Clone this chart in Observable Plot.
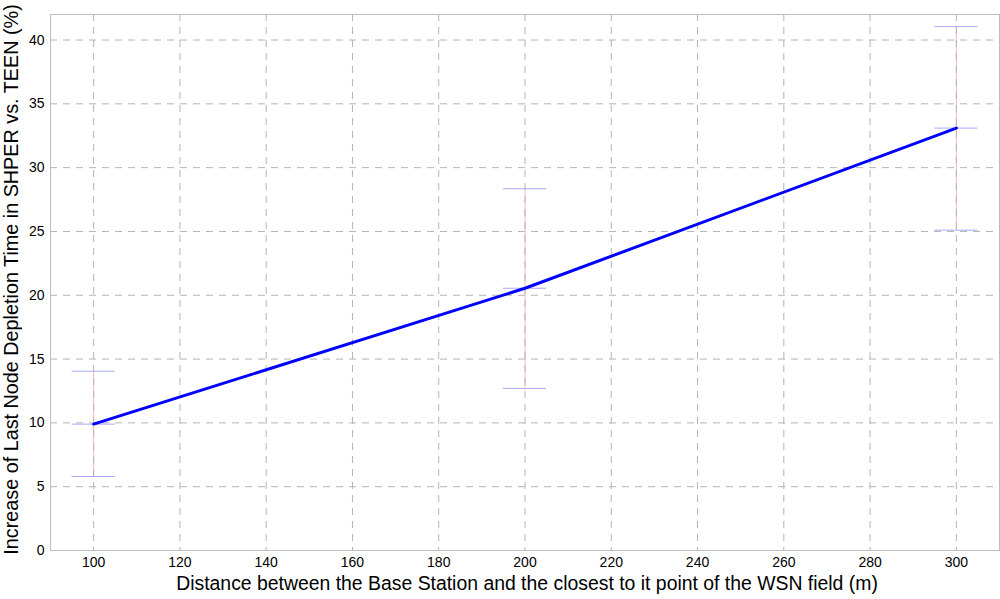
<!DOCTYPE html>
<html>
<head>
<meta charset="utf-8">
<script src="https://cdn.jsdelivr.net/npm/d3@7"></script>
<script src="https://cdn.jsdelivr.net/npm/@observablehq/plot@0.6"></script>
<style>
  html, body { margin: 0; padding: 0; background: #fff; }
  #chart { width: 1000px; height: 599px; }
</style>
</head>
<body>
<div id="chart"></div>
<script>
const distances = [100, 200, 300];
const meanIncrease = [9.9, 20.55, 33.1];
const lowIncrease = [5.8, 12.7, 25.1];
const highIncrease = [14.05, 28.35, 41.05];
const xTicks = [100, 120, 140, 160, 180, 200, 220, 240, 260, 280, 300];
const yTicks = [0, 5, 10, 15, 20, 25, 30, 35, 40];
const xLabel = "Distance between the Base Station and the closest to it point of the WSN field (m)";
const yLabel = "Increase of Last Node Depletion Time in SHPER vs. TEEN (%)";
const capHalfWidth = 5;

const data = distances.map((d, i) => ({
  x: d, mean: meanIncrease[i], lo: lowIncrease[i], hi: highIncrease[i]
}));
const caps = data.flatMap(d => [d.lo, d.mean, d.hi].map(v => ({x: d.x, v})));

const chart = Plot.plot({
  width: 1000,
  height: 599,
  marginLeft: 50,
  marginRight: 1,
  marginTop: 14,
  marginBottom: 49,
  style: {fontFamily: "'Liberation Sans', Arial, sans-serif", background: "#fff"},
  x: {domain: [90, 310]},
  y: {domain: [0, 42]},
  marks: [
    Plot.ruleX(data, {x: "x", y1: "lo", y2: "hi", stroke: "#ffb8b8", strokeWidth: 1}),
    Plot.ruleX(xTicks, {stroke: "#b4b4b4", strokeWidth: 1, strokeDasharray: "7,6"}),
    Plot.ruleY(yTicks, {stroke: "#b4b4b4", strokeWidth: 1, strokeDasharray: "7,6"}),
    Plot.ruleY(caps, {y: "v", x1: d => d.x - capHalfWidth, x2: d => d.x + capHalfWidth, stroke: "#aaaaff", strokeWidth: 1}),
    Plot.line(data, {x: "x", y: "mean", stroke: "#0000ff", strokeWidth: 3}),
    Plot.frame({stroke: "#bdbdbd"}),
    Plot.axisX({ticks: xTicks, tickSize: 0, tickPadding: 7, fontSize: 14, label: null, tickFormat: d3.format("d")}),
    Plot.axisY({ticks: yTicks, tickSize: 0, tickPadding: 6, fontSize: 14, label: null, tickFormat: d3.format("d")}),
    Plot.text([xLabel], {frameAnchor: "bottom", dy: 33, dx: 2, fontSize: 19.4, fill: "#000", lineAnchor: "middle", textAnchor: "middle"}),
    Plot.text([yLabel], {frameAnchor: "left", dx: -39, dy: -3, rotate: -90, fontSize: 19.8, fill: "#000", lineAnchor: "middle", textAnchor: "middle"})
  ]
});
document.getElementById("chart").appendChild(chart);
</script>
</body>
</html>
